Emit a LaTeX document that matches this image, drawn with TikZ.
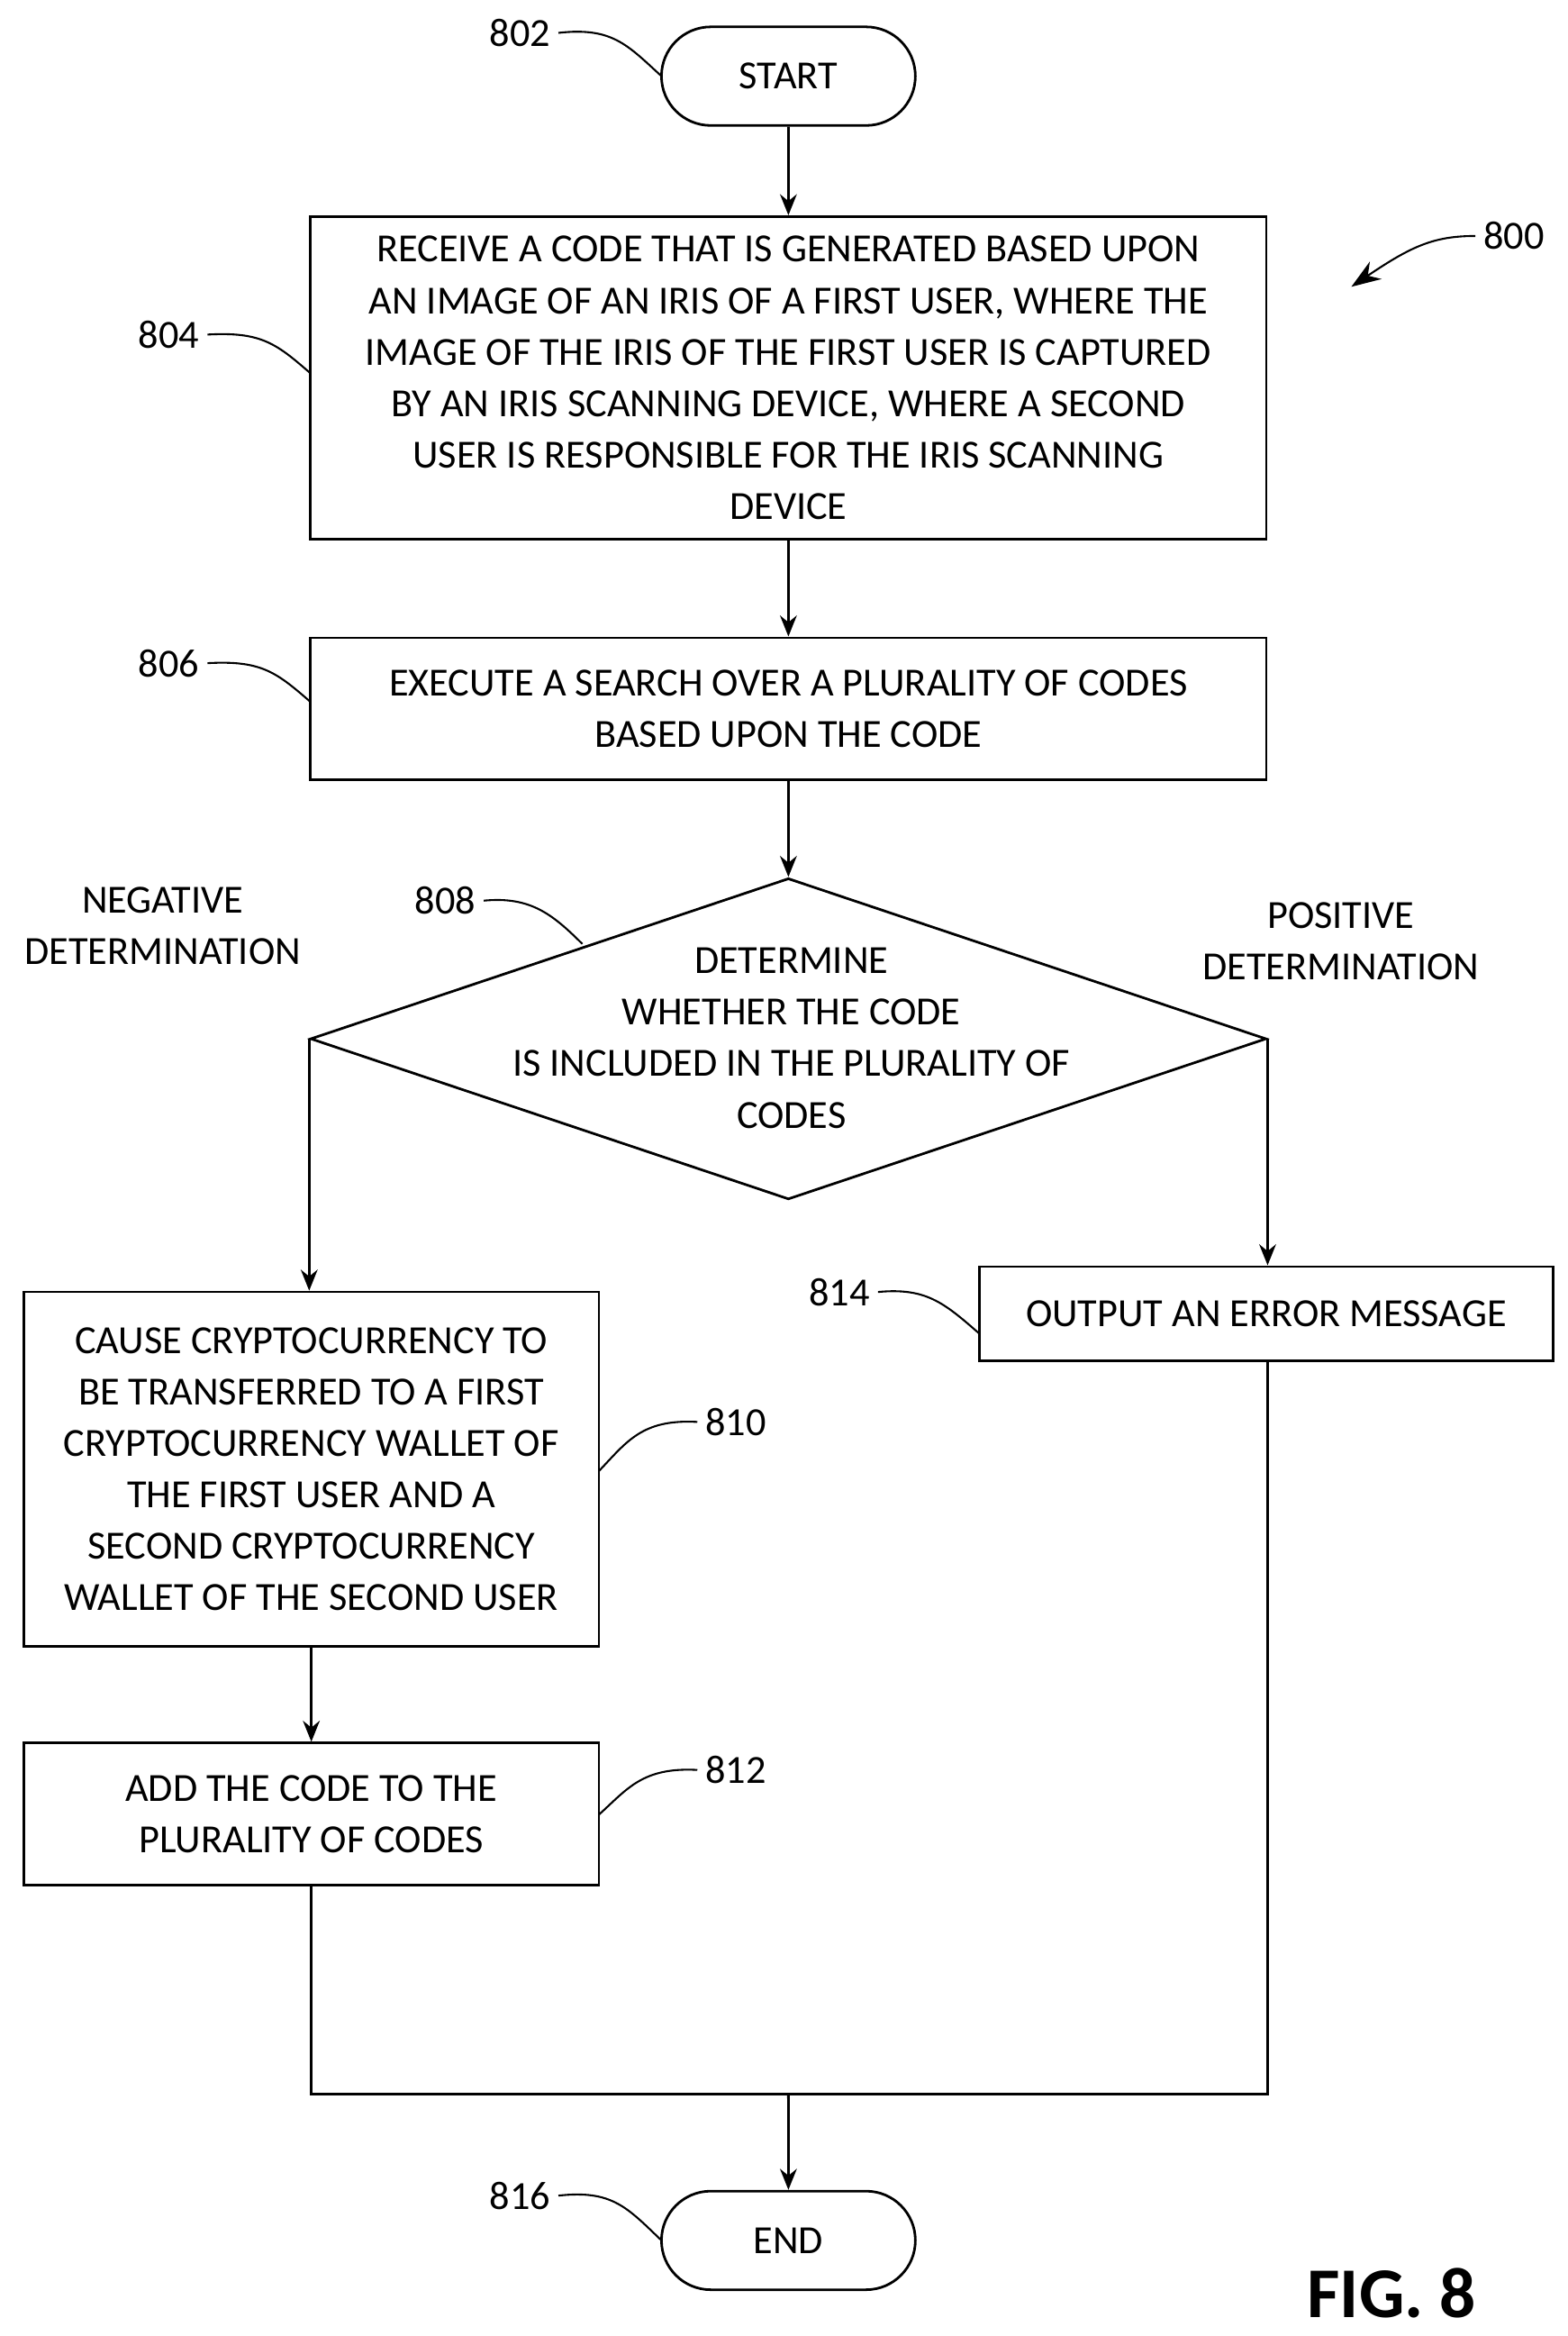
\documentclass[tikz,border=0pt]{standalone}
\usepackage{fontspec}
\setmainfont{Carlito}
\usetikzlibrary{shapes.geometric,shapes.misc,arrows.meta}
\begin{document}
\begin{tikzpicture}[x=0.025cm, y=-0.025cm, font=\fontsize{19}{24.5}\selectfont, line width=1.2pt,
  box/.style={draw, rectangle, align=center, inner sep=0pt},
  term/.style={draw, rounded rectangle, minimum width=4.25cm, minimum height=1.65cm, inner sep=0pt},
  flow/.style={-{Stealth[length=10pt, width=8pt]}},
  lead/.style={line width=0.9pt}]
\useasboundingbox (0,0) rectangle (1050,1564);
% main chain
\node[term] (start) at (528,51) {START};
\node[box, minimum width=16cm, minimum height=5.4cm] (recv) at (528,253)
  {RECEIVE A CODE THAT IS GENERATED BASED UPON\\AN IMAGE OF AN IRIS OF A FIRST USER, WHERE THE\\IMAGE OF THE IRIS OF THE FIRST USER IS CAPTURED\\BY AN IRIS SCANNING DEVICE, WHERE A SECOND\\USER IS RESPONSIBLE FOR THE IRIS SCANNING\\DEVICE};
\node[box, minimum width=16cm, minimum height=2.375cm] (search) at (528,474.5)
  {EXECUTE A SEARCH OVER A PLURALITY OF CODES\\BASED UPON THE CODE};
\node[draw, diamond, aspect=2.977, minimum width=16cm, minimum height=5.375cm, inner sep=0pt] (decide) at (528,695.5) {};
\node[align=center] at (530,695) {DETERMINE\\WHETHER THE CODE\\IS INCLUDED IN THE PLURALITY OF\\CODES};
\node[box, minimum width=9.625cm, minimum height=5.925cm] (transfer) at (208.5,983.5)
  {CAUSE CRYPTOCURRENCY TO\\BE TRANSFERRED TO A FIRST\\CRYPTOCURRENCY WALLET OF\\THE FIRST USER AND A\\SECOND CRYPTOCURRENCY\\WALLET OF THE SECOND USER};
\node[box, minimum width=9.625cm, minimum height=2.375cm] (add) at (208.5,1214.5)
  {ADD THE CODE TO THE\\PLURALITY OF CODES};
\node[box, minimum width=9.6cm, minimum height=1.575cm] (error) at (848,879.5)
  {OUTPUT AN ERROR MESSAGE};
\node[term] (end) at (528,1500) {END};
\coordinate (join) at (528,1402);
% connectors
\draw[flow] (start) -- (recv);
\draw[flow] (recv) -- (search);
\draw[flow] (search) -- (decide);
\draw[flow] (decide.west) -- (transfer.north -| decide.west);
\draw[flow] (decide.east) -- (error.north -| decide.east);
\draw[flow] (transfer) -- (add);
\draw (add.south) |- (join);
\draw (error.south -| decide.east) |- (join);
\draw[flow] (join) -- (end);
% branch labels
\node[align=center] at (109,620) {NEGATIVE\\DETERMINATION};
\node[align=center] at (898,630) {POSITIVE\\DETERMINATION};
% reference numerals
\node[anchor=east] (n802) at (374,22) {802};
\draw[lead] (n802.east) .. controls (410,18) and (420,30) .. (443,51);
\node[anchor=east] (n804) at (139,224) {804};
\draw[lead] (n804.east) .. controls (175,222) and (185,230) .. (208,250);
\node[anchor=east] (n806) at (139,444) {806};
\draw[lead] (n806.east) .. controls (175,442) and (185,450) .. (208,470);
\node[anchor=east] (n808) at (324,603) {808};
\draw[lead] (n808.east) .. controls (355,600) and (370,612) .. (390,632);
\node[anchor=west] (n810) at (467,952) {810};
\draw[lead] (n810.west) .. controls (430,950) and (420,965) .. (401,985);
\node[anchor=west] (n812) at (467,1185) {812};
\draw[lead] (n812.west) .. controls (430,1183) and (420,1198) .. (401,1215);
\node[anchor=east] (n814) at (588,865) {814};
\draw[lead] (n814.east) .. controls (620,862) and (632,872) .. (656,893);
\node[anchor=east] (n816) at (374,1470) {816};
\draw[lead] (n816.east) .. controls (410,1466) and (420,1478) .. (443,1500);
\node[anchor=west] (n800) at (988,158) {800};
\coordinate (p800) at (905,192);
\draw[lead, -{Stealth[length=14pt, width=10pt]}] (n800.west) .. controls (960,158) and (945,165) .. (p800);
% figure label
\node[font=\fontsize{34}{40}\selectfont\bfseries] (fig) at (932,1535) {FIG. 8};
\end{tikzpicture}
\end{document}
